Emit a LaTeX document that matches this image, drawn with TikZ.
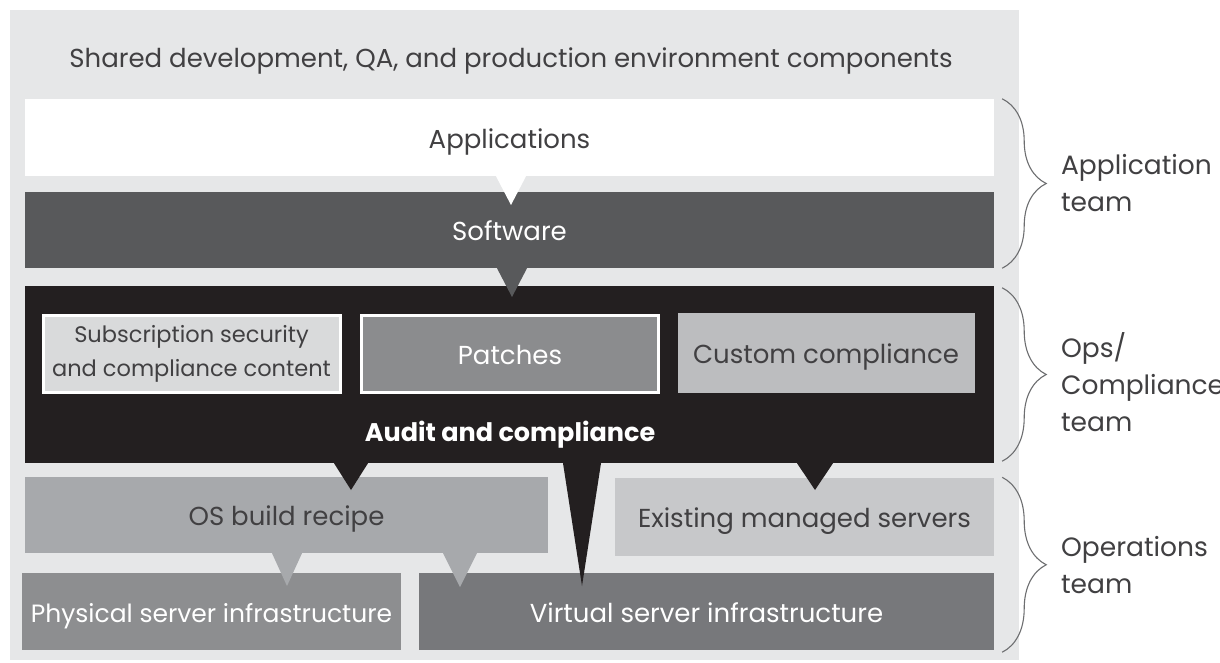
\documentclass[tikz,border=0pt]{standalone}
\usepackage{fontspec}
\setmainfont{Poppins}
\definecolor{PanelGray}{HTML}{E6E7E8}
\definecolor{TextDark}{HTML}{414042}
\definecolor{SoftwareGray}{HTML}{58595B}
\definecolor{AuditBlack}{HTML}{231F20}
\definecolor{SubsGray}{HTML}{D9DADB}
\definecolor{PatchGray}{HTML}{8B8C8E}
\definecolor{CustomGray}{HTML}{BCBDBF}
\definecolor{RecipeGray}{HTML}{A7A9AC}
\definecolor{ExistGray}{HTML}{C7C8CA}
\definecolor{PhysGray}{HTML}{8D8E90}
\definecolor{VirtGray}{HTML}{77787B}
\definecolor{BraceGray}{HTML}{6D6E70}
\usetikzlibrary{positioning,decorations.pathreplacing}
\tikzset{
  panel/.style={fill=PanelGray, minimum width=1009pt, minimum height=650pt, inner sep=0pt},
  oneline/.style={text height=21pt, text depth=0pt, font=\fontsize{26}{30}\selectfont},
  layer/.style={oneline, minimum width=969pt, minimum height=77pt, inner sep=0pt, align=center},
  darklayer/.style={layer, text=TextDark},
  lightlayer/.style={layer, text=white},
  innerbox/.style={minimum width=297pt, minimum height=77pt, inner sep=0pt, align=center},
  teambrace/.style={draw=BraceGray, line width=1.1pt, decorate, decoration={brace, amplitude=44pt}},
  teamlabel/.style={anchor=west, align=left, text=TextDark, font=\fontsize{26.5}{37}\selectfont}
}

\begin{document}
\begin{tikzpicture}[x=1pt, y=-1pt]
\useasboundingbox (0,0) rectangle (1220,662);
\fill[white] (0,0) rectangle (1220,662);
\node[panel] (panel) at (514.5,335) {};
\node[oneline, text=TextDark] (title) at (511,57) {Shared development, QA, and production environment components};

% application team layers
\node[darklayer, fill=white] (apps) at (509.5,137.5) {Applications};
\node[lightlayer, fill=SoftwareGray, minimum height=76pt] (soft) at (509.5,230) {Software};

% audit block with its three parts
\node[layer, fill=AuditBlack, minimum height=177pt] (audit) at (509.5,374.5) {};
\node[innerbox, fill=SubsGray, draw=white, line width=3pt, text=TextDark, font=\fontsize{22.5}{34}\selectfont] (subs) at (191.5,353.5) {\raisebox{-2pt}{Subscription security}\\\raisebox{-2pt}{and compliance content}};
\node[innerbox, oneline, fill=PatchGray, draw=white, line width=3pt, text=white] (patch) at (510,353.5) {Patches};
\node[innerbox, oneline, fill=CustomGray, minimum height=80pt, text=TextDark] (custom) at (826,353) {Custom compliance};
\node[oneline, text=white, font=\fontsize{25.5}{30}\selectfont\bfseries] (audittext) at (510,431) {Audit and compliance};

% operations layers
\node[darklayer, fill=RecipeGray, minimum width=523pt, minimum height=76pt] (os) at (286.5,515) {OS build recipe};
\node[darklayer, fill=ExistGray, minimum width=379pt, minimum height=78pt] (exist) at (804.5,516.5) {Existing managed servers};
\node[lightlayer, fill=PhysGray, minimum width=379pt, font=\fontsize{25}{30}\selectfont] (phys) at (211.5,611.5) {Physical server infrastructure};
\node[lightlayer, fill=VirtGray, minimum width=575pt] (virt) at (706.5,611.5) {Virtual server infrastructure};

% pointers between layers
\coordinate (tipsoft) at (511,205);
\coordinate (tipaudit) at (512,297);
\coordinate (tipos) at (351,490);
\coordinate (tipvirt) at (582,586);
\coordinate (tipexist) at (815,490);
\coordinate (tipphys) at (287,586);
\coordinate (tipvirtos) at (460,587);
\fill[white] (496,0 |- apps.south) -- (526,0 |- apps.south) -- (tipsoft) -- cycle;
\fill[SoftwareGray] (497,0 |- soft.south) -- (527,0 |- soft.south) -- (tipaudit) -- cycle;
\fill[AuditBlack] (334,0 |- audit.south) -- (368,0 |- audit.south) -- (tipos) -- cycle;
\fill[AuditBlack] (563,0 |- audit.south) -- (601,0 |- audit.south) -- (tipvirt) -- cycle;
\fill[AuditBlack] (797,0 |- audit.south) -- (833,0 |- audit.south) -- (tipexist) -- cycle;
\fill[RecipeGray] (272,0 |- os.south) -- (302,0 |- os.south) -- (tipphys) -- cycle;
\fill[RecipeGray] (443,0 |- os.south) -- (477,0 |- os.south) -- (tipvirtos) -- cycle;

% team braces
\draw[teambrace] ([xshift=8pt]apps.north east) -- ([xshift=8pt]soft.south east)
  node[midway, right=55pt, teamlabel] (appteam) {Application\\team};
\draw[teambrace] ([xshift=8pt,yshift=-2pt]audit.north east) -- ([xshift=8pt,yshift=2pt]audit.south east)
  node[midway, right=55pt, yshift=-8pt, teamlabel] (opsteam) {Ops/\\Compliance\\team};
\draw[teambrace] ([xshift=8pt]exist.north east) -- ([xshift=8pt,yshift=-2pt]virt.south east)
  node[midway, right=55pt, teamlabel] (opteam) {Operations\\team};
\end{tikzpicture}
\end{document}
